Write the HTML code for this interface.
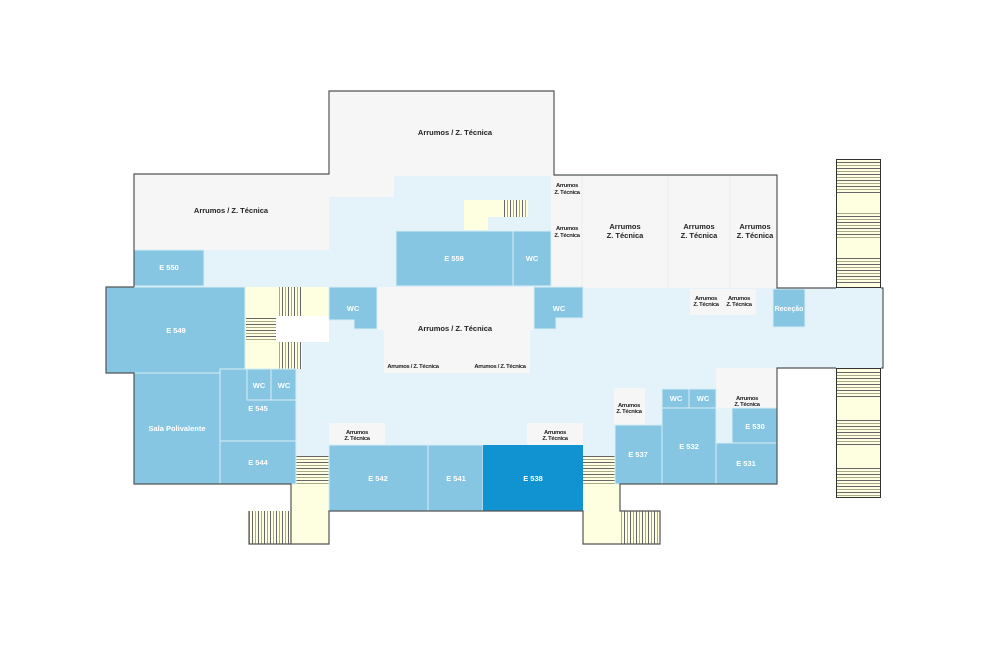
<!DOCTYPE html>
<html><head><meta charset="utf-8"><style>
html,body{margin:0;padding:0;background:#fff}
svg{display:block}
text{font-family:"Liberation Sans",sans-serif;font-weight:bold;text-anchor:middle}
.w{fill:#fff;font-size:7.5px}
.k{fill:#222;font-size:7.5px}
.s{fill:#222;font-size:5.8px;letter-spacing:-0.3px}
.g{fill:#f6f6f6}
.b{fill:#86c6e2;stroke:#d6edf6;stroke-width:1}
.y{fill:#fefee0}
</style></head><body>
<svg width="994" height="653" viewBox="0 0 994 653" xmlns="http://www.w3.org/2000/svg">
<defs>
<pattern id="hv" width="6" height="4" patternUnits="userSpaceOnUse"><rect width="6" height="4" fill="#fefee0"/><rect x="0" width="1" height="4" fill="#666"/><rect x="3" width="1" height="4" fill="#a8a88a"/></pattern>
<pattern id="hh" width="4" height="6" patternUnits="userSpaceOnUse"><rect width="4" height="6" fill="#fefee0"/><rect y="0" height="1" width="4" fill="#666"/><rect y="3" height="1" width="4" fill="#a8a88a"/></pattern>
</defs>
<polygon fill="#e4f3f9" points="329,91 554,91 554,175 777,175 777,288 883,288 883,368 777,368 777,484 620,484 620,511 583,511 329,511 329,484 291,484 134,484 134,373 106,373 106,287 134,287 134,174 329,174"/>
<rect class="g" x="329" y="91" width="225" height="85"/>
<rect class="g" x="329" y="176" width="65" height="21"/>
<rect class="g" x="134" y="174" width="195" height="76"/>
<rect class="g" x="551" y="176" width="226" height="112"/>
<polygon class="g" points="377,287 534,287 534,330 530,330 530,373 384,373 384,330 377,330"/>
<rect class="g" x="690" y="289" width="33" height="26"/>
<rect class="g" x="723" y="289" width="33" height="26"/>
<rect class="g" x="329" y="423" width="56" height="22"/>
<rect class="g" x="527" y="423" width="56" height="22"/>
<rect class="g" x="614" y="388" width="31" height="37"/>
<rect class="g" x="716" y="368" width="61" height="40"/>
<g stroke="#ececec" stroke-width="1"><line x1="582" y1="176" x2="582" y2="288"/><line x1="668" y1="176" x2="668" y2="288"/><line x1="730" y1="176" x2="730" y2="288"/></g>
<polygon class="y" points="464,200 503,200 503,217 488,217 488,230 464,230"/>
<rect x="503" y="200" width="25" height="17" fill="url(#hv)"/>
<rect class="y" x="245" y="287" width="84" height="29"/>
<rect class="y" x="245" y="316" width="31" height="53"/>
<rect class="y" x="276" y="342" width="26" height="27"/>
<rect fill="#fff" x="276" y="316" width="53" height="26"/>
<rect x="278" y="287" width="24" height="29" fill="url(#hv)"/>
<rect x="246" y="318" width="30" height="24" fill="url(#hh)"/>
<rect x="278" y="342" width="24" height="27" fill="url(#hv)"/>
<rect x="296" y="456" width="33" height="28" fill="url(#hh)"/>
<rect class="y" x="291" y="484" width="38" height="60"/>
<rect x="249" y="511" width="42" height="33" fill="url(#hv)"/>
<rect x="583" y="456" width="32" height="28" fill="url(#hh)"/>
<rect class="y" x="583" y="484" width="37" height="60"/>
<rect x="620" y="511" width="40" height="33" fill="url(#hv)"/>
<rect class="y" x="836" y="159" width="45" height="129"/>
<rect x="836" y="159" width="45" height="35" fill="url(#hh)"/>
<rect x="836" y="212" width="45" height="26" fill="url(#hh)"/>
<rect x="836" y="258" width="45" height="27" fill="url(#hh)"/>
<rect class="y" x="836" y="368" width="45" height="130"/>
<rect x="836" y="372" width="45" height="26" fill="url(#hh)"/>
<rect x="836" y="418" width="45" height="27" fill="url(#hh)"/>
<rect x="836" y="468" width="45" height="29" fill="url(#hh)"/>
<g fill="none" stroke="#333" stroke-width="1"><rect x="836.5" y="159.5" width="44" height="128"/><rect x="836.5" y="368.5" width="44" height="129"/></g>
<rect class="b" x="396" y="231" width="117" height="55"/>
<rect class="b" x="513" y="231" width="38" height="55"/>
<rect class="b" x="134" y="250" width="70" height="36"/>
<rect class="b" x="106" y="287" width="139" height="86"/>
<polygon class="b" points="329,287 377,287 377,329 354,329 354,320 329,320"/>
<polygon class="b" points="534,287 583,287 583,318 556,318 556,329 534,329"/>
<rect class="b" x="773" y="289" width="32" height="38"/>
<rect class="b" x="134" y="373" width="86" height="111"/>
<rect class="b" x="220" y="369" width="76" height="72"/>
<rect class="b" x="247" y="369" width="24" height="31"/>
<rect class="b" x="271" y="369" width="25" height="31"/>
<rect class="b" x="220" y="441" width="76" height="43"/>
<rect class="b" x="329" y="445" width="99" height="66"/>
<rect class="b" x="428" y="445" width="55" height="66"/>
<rect x="483" y="445" width="100" height="66" fill="#1193d1"/>
<rect class="b" x="615" y="425" width="47" height="59"/>
<rect class="b" x="662" y="389" width="27" height="19"/>
<rect class="b" x="689" y="389" width="27" height="19"/>
<rect class="b" x="662" y="408" width="54" height="76"/>
<rect class="b" x="732" y="408" width="45" height="35"/>
<rect class="b" x="716" y="443" width="61" height="41"/>
<g fill="none" stroke="#555" stroke-width="1.2">
<polyline points="134,287 106,287 106,373 134,373 134,484 291,484 291,544 249,544 249,511"/>
<polyline points="134,287 134,174 329,174 329,91 554,91 554,175 777,175 777,288 836,288"/>
<polyline points="881,288 883,288 883,368 881,368"/>
<polyline points="836,368 777,368 777,484 620,484 620,511 660,511 660,544 583,544 583,511 329,511 329,544 291,544"/>
</g>
<text class="k" x="455" y="135">Arrumos / Z. Técnica</text>
<text class="k" x="231" y="213">Arrumos / Z. Técnica</text>
<text class="k" x="455" y="331">Arrumos / Z. Técnica</text>
<text class="s" x="413" y="368">Arrumos / Z. Técnica</text>
<text class="s" x="500" y="368">Arrumos / Z. Técnica</text>
<text class="s" x="567" y="187">Arrumos</text><text class="s" x="567" y="194">Z. Técnica</text>
<text class="s" x="567" y="230">Arrumos</text><text class="s" x="567" y="237">Z. Técnica</text>
<text class="k" x="625" y="229">Arrumos</text><text class="k" x="625" y="238">Z. Técnica</text>
<text class="k" x="699" y="229">Arrumos</text><text class="k" x="699" y="238">Z. Técnica</text>
<text class="k" x="755" y="229">Arrumos</text><text class="k" x="755" y="238">Z. Técnica</text>
<text class="s" x="706" y="300">Arrumos</text><text class="s" x="706" y="306">Z. Técnica</text>
<text class="s" x="739" y="300">Arrumos</text><text class="s" x="739" y="306">Z. Técnica</text>
<text class="s" x="357" y="434">Arrumos</text><text class="s" x="357" y="440">Z. Técnica</text>
<text class="s" x="555" y="434">Arrumos</text><text class="s" x="555" y="440">Z. Técnica</text>
<text class="s" x="629" y="407">Arrumos</text><text class="s" x="629" y="413">Z. Técnica</text>
<text class="s" x="747" y="400">Arrumos</text><text class="s" x="747" y="406">Z. Técnica</text>
<text class="w" x="454" y="261">E 559</text>
<text class="w" x="532" y="261">WC</text>
<text class="w" x="169" y="270">E 550</text>
<text class="w" x="176" y="333">E 549</text>
<text class="w" x="353" y="311">WC</text>
<text class="w" x="559" y="311">WC</text>
<text class="w" x="789" y="311" style="font-size:7px">Receção</text>
<text class="w" x="177" y="431">Sala Polivalente</text>
<text class="w" x="259" y="388">WC</text>
<text class="w" x="284" y="388">WC</text>
<text class="w" x="258" y="411">E 545</text>
<text class="w" x="258" y="465">E 544</text>
<text class="w" x="378" y="481">E 542</text>
<text class="w" x="456" y="481">E 541</text>
<text class="w" x="533" y="481">E 538</text>
<text class="w" x="638" y="457">E 537</text>
<text class="w" x="676" y="401">WC</text>
<text class="w" x="703" y="401">WC</text>
<text class="w" x="689" y="449">E 532</text>
<text class="w" x="755" y="429">E 530</text>
<text class="w" x="746" y="466">E 531</text>
</svg>
</body></html>
